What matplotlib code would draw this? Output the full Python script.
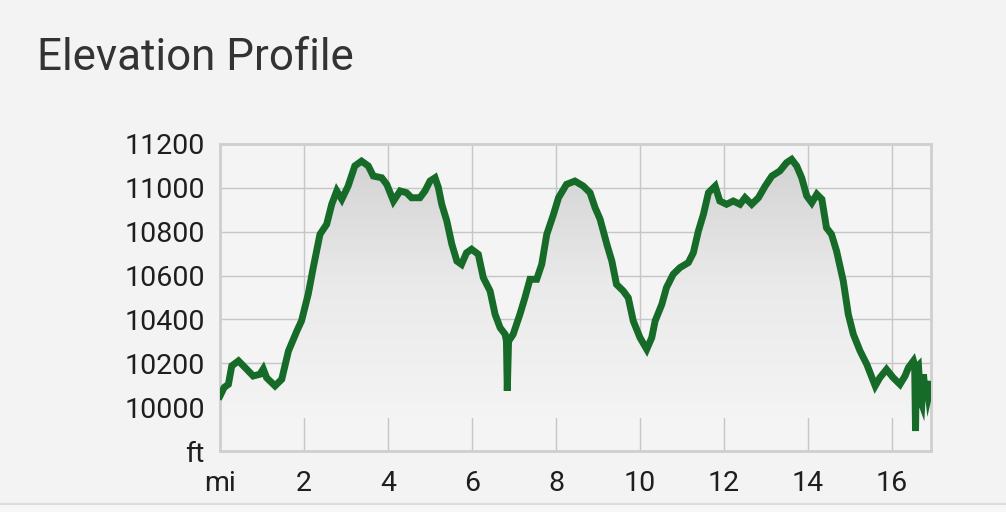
import matplotlib
matplotlib.use("Agg")
import matplotlib.pyplot as plt
import numpy as np
from matplotlib.colors import LinearSegmentedColormap

miles = [0.0, 0.1, 0.2, 0.28, 0.44, 0.63, 0.79, 0.95, 1.03, 1.11, 1.31, 1.47, 1.63, 1.83,
         1.94, 2.10, 2.22, 2.38, 2.54, 2.66, 2.78, 2.90, 3.05, 3.21, 3.37, 3.53, 3.65, 3.85,
         3.97, 4.13, 4.29, 4.44, 4.56, 4.76, 4.88, 5.0, 5.12, 5.20, 5.28, 5.40, 5.52, 5.64,
         5.75, 5.87, 5.99, 6.15, 6.27, 6.43, 6.55, 6.67, 6.79, 6.82, 6.84, 6.87, 6.98, 7.14,
         7.26, 7.38, 7.54, 7.66, 7.78, 7.94, 8.06, 8.25, 8.45, 8.65, 8.81, 8.93, 9.05, 9.21,
         9.33, 9.44, 9.60, 9.72, 9.84, 10.0, 10.16, 10.28, 10.36, 10.52, 10.63, 10.79, 10.95,
         11.15, 11.27, 11.39, 11.51, 11.63, 11.79, 11.90, 12.06, 12.22, 12.38, 12.5, 12.66,
         12.82, 12.98, 13.14, 13.33, 13.49, 13.61, 13.73, 13.85, 13.97, 14.09, 14.21, 14.33,
         14.44, 14.56, 14.68, 14.84, 14.96, 15.08, 15.24, 15.40, 15.6, 15.71, 15.87, 16.03,
         16.19, 16.31, 16.39, 16.51, 16.54, 16.56, 16.58, 16.63, 16.68, 16.71, 16.75, 16.8,
         16.83, 16.87, 16.93]

elevation = [10051, 10090, 10104, 10188, 10211, 10174, 10142, 10150, 10174, 10134, 10097, 10127,
             10256, 10347, 10393, 10515, 10636, 10788, 10834, 10925, 10986, 10948, 11008, 11100,
             11122, 11100, 11054, 11046, 11016, 10940, 10986, 10978, 10955, 10955, 10986, 11031,
             11046, 11001, 10925, 10849, 10743, 10666, 10651, 10704, 10720, 10697, 10590, 10530,
             10423, 10362, 10332, 10300, 10074, 10300, 10332, 10423, 10499, 10583, 10583, 10651,
             10788, 10879, 10955, 11016, 11031, 11008, 10978, 10910, 10857, 10743, 10666, 10560,
             10530, 10499, 10393, 10317, 10264, 10317, 10393, 10469, 10545, 10606, 10636, 10659,
             10704, 10803, 10879, 10978, 11008, 10940, 10925, 10940, 10925, 10955, 10925, 10955,
             11008, 11054, 11077, 11115, 11130, 11100, 11046, 10963, 10932, 10971, 10948, 10818,
             10788, 10712, 10575, 10423, 10332, 10256, 10195, 10097, 10134, 10172, 10134, 10104,
             10142, 10180, 10211, 10190, 9891, 10180, 10190, 10030, 10014, 10150, 10030, 10119,
             10050, 10100]

x_ticks = [0, 2, 4, 6, 8, 10, 12, 14, 16]
x_labels = ["mi", "2", "4", "6", "8", "10", "12", "14", "16"]
y_ticks = [9800, 10000, 10200, 10400, 10600, 10800, 11000, 11200]
y_labels = ["ft", "10000", "10200", "10400", "10600", "10800", "11000", "11200"]

plt.rcParams['font.family'] = ['Roboto', 'DejaVu Sans']

bg = "#f3f3f3"
fig = plt.figure(figsize=(10.06, 5.12), dpi=100, facecolor=bg)
ax = fig.add_axes([220/1006, 1 - 451/512, 711/1006, 307/512])
ax.set_facecolor("#f4f4f4")

xmin, xmax = 0, 711/42
ymin, ymax = 9800, 11200
ax.set_xlim(xmin, xmax)
ax.set_ylim(ymin, ymax)

# gradient fill under the curve
poly = ax.fill_between(miles, elevation, ymin, color="none", lw=0)
cmap = LinearSegmentedColormap.from_list("g", ["#f4f4f4", "#eaeaea", "#d2d2d2"])
grad = np.linspace(0, 1, 256).reshape(-1, 1)
im = ax.imshow(grad, cmap=cmap, aspect="auto", origin="lower",
               extent=[xmin, xmax, 9950, 11150], zorder=1)
path = poly.get_paths()[0]
im.set_clip_path(path, transform=ax.transData)

ax.plot(miles, elevation, color="#176b29", lw=5, zorder=3, solid_joinstyle="miter")

ax.set_xticks(x_ticks)
ax.set_xticklabels(x_labels)
ax.set_yticks(y_ticks)
ax.set_yticklabels(y_labels)
ax.tick_params(length=0, labelsize=20.5, colors="#1e1e1e")
ax.tick_params(axis="x", pad=14)
ax.tick_params(axis="y", pad=11)
ax.grid(True, color="#c6c6c6", lw=1, zorder=0)
ax.set_axisbelow(True)
for s in ax.spines.values():
    s.set_color("#cfcfcf")
    s.set_linewidth(2)

fig.text(37/1006, 1 - 70/512, "Elevation Profile", fontsize=31.6, color="#333333",
         ha="left", va="baseline")

# bottom separator
fig.add_artist(plt.Line2D([0, 1], [1 - 504/512, 1 - 504/512], color="#dcdcdc", lw=1.5,
                          transform=fig.transFigure))
fig.patches.append(plt.Rectangle((0, 0), 1, 1 - 505/512, transform=fig.transFigure,
                                 facecolor="#f7f7f7", edgecolor="none"))

fig.savefig("out.png", dpi=100, facecolor=bg)
